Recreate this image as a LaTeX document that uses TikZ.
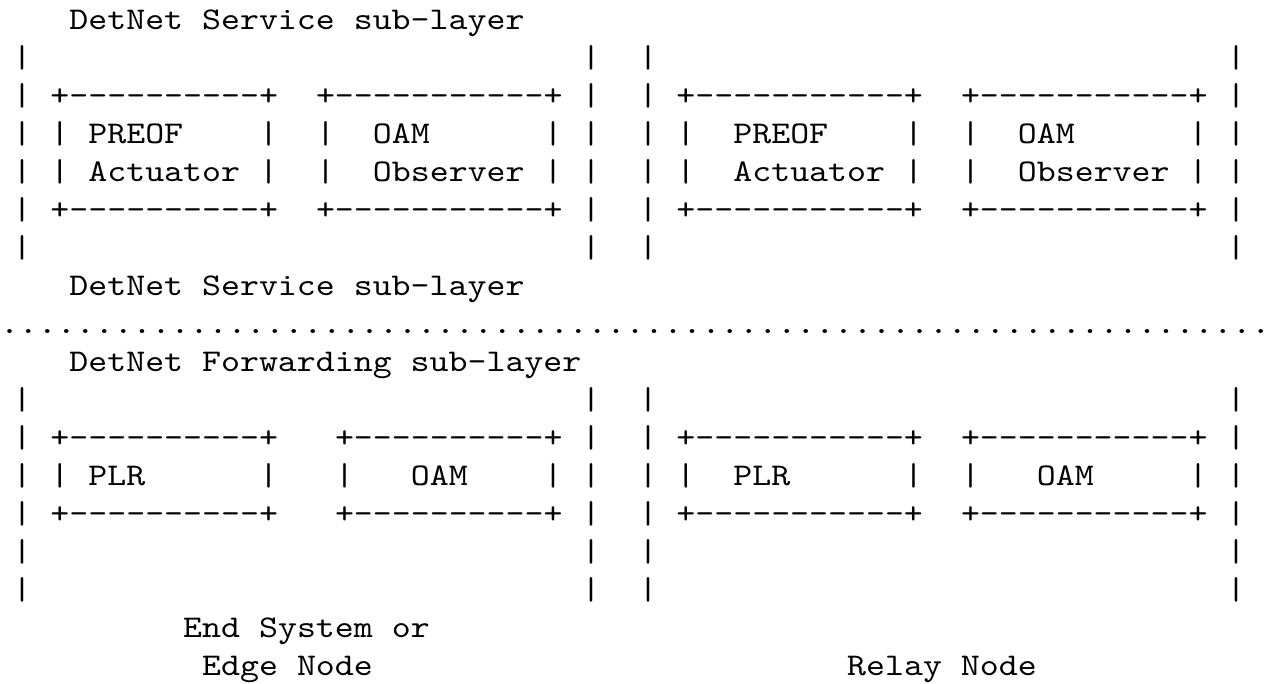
\documentclass[tikz,border=0pt]{standalone}
\usepackage{fontspec}
\newfontfamily\asciifont{lmmono10-regular.otf}[FakeStretch=1.142857,Ligatures=TeXOff]
\tikzset{
  asc/.style={anchor=base west, inner sep=0pt, outer sep=0pt, text=black,
    font=\asciifont\fontsize{31.6}{37.9}\selectfont}
}
% token: line, column, text
\newcommand\tk[3]{\node[asc] (L#1C#2) at ({18.97*#2-6.455},{29.5+38*(#1-1)}) {#3};}
\begin{document}
\begin{tikzpicture}[x=1pt,y=-1pt]
\fill[white] (0,0) rectangle (1281,683);
\useasboundingbox (0,0) rectangle (1281,683);
% headings
\tk{1}{4}{DetNet Service sub-layer}
\tk{8}{4}{DetNet Service sub-layer}
\node[asc] (L9C0) at (0,{29.5+38*8}) {...................................................................};
\tk{10}{4}{DetNet Forwarding sub-layer}
% plain bar lines
\foreach \k in {2,7,11,15,16}{\tk{\k}{1}{|}\tk{\k}{31}{|}\tk{\k}{34}{|}\tk{\k}{65}{|}}
% service box edges
\foreach \k in {3,6}{\tk{\k}{1}{|}\tk{\k}{3}{+----------+}\tk{\k}{17}{+-----------+}\tk{\k}{31}{|}\tk{\k}{34}{|}\tk{\k}{36}{+-----------+}\tk{\k}{51}{+-----------+}\tk{\k}{65}{|}}
% service box contents
\foreach \k in {4,5}{\tk{\k}{1}{|}\tk{\k}{3}{|}\tk{\k}{14}{|}\tk{\k}{17}{|}\tk{\k}{29}{|}\tk{\k}{31}{|}\tk{\k}{34}{|}\tk{\k}{36}{|}\tk{\k}{48}{|}\tk{\k}{51}{|}\tk{\k}{63}{|}\tk{\k}{65}{|}}
\tk{4}{5}{PREOF}\tk{4}{20}{OAM}\tk{4}{39}{PREOF}\tk{4}{54}{OAM}
\tk{5}{5}{Actuator}\tk{5}{20}{Observer}\tk{5}{39}{Actuator}\tk{5}{54}{Observer}
% forwarding box edges
\foreach \k in {12,14}{\tk{\k}{1}{|}\tk{\k}{3}{+----------+}\tk{\k}{18}{+----------+}\tk{\k}{31}{|}\tk{\k}{34}{|}\tk{\k}{36}{+-----------+}\tk{\k}{51}{+-----------+}\tk{\k}{65}{|}}
% forwarding box contents
\tk{13}{1}{|}\tk{13}{3}{|}\tk{13}{5}{PLR}\tk{13}{14}{|}\tk{13}{18}{|}\tk{13}{22}{OAM}\tk{13}{29}{|}\tk{13}{31}{|}
\tk{13}{34}{|}\tk{13}{36}{|}\tk{13}{39}{PLR}\tk{13}{48}{|}\tk{13}{51}{|}\tk{13}{55}{OAM}\tk{13}{63}{|}\tk{13}{65}{|}
% captions
\tk{17}{10}{End System or}
\tk{18}{11}{Edge Node}
\tk{18}{45}{Relay Node}
\end{tikzpicture}
\end{document}
